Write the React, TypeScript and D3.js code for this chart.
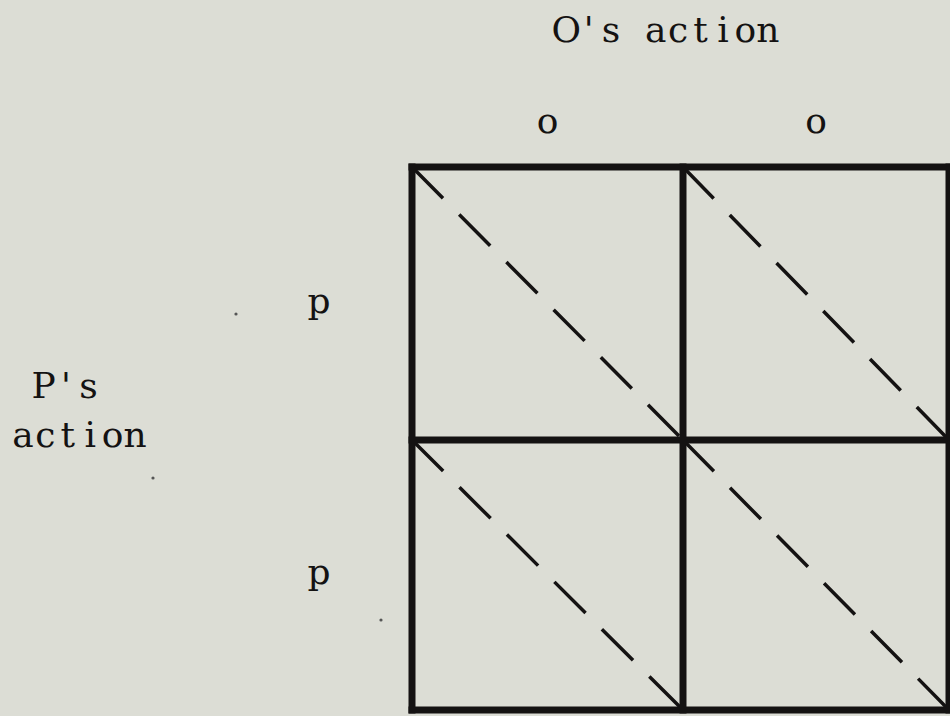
import React from "react";
import * as d3 from "d3";

// labels
const colActions = ["o", "o"];
const rowActions = ["p", "p"];
const colTitle = "O's action";
const rowTitle = ["P's", "action"];
// stray specks in the scan
const specks = [
  [236, 314],
  [153, 478],
  [381, 620],
];

const width = 950;
const height = 716;
const bg = "#dcddd5";
const ink = "#141212";
// no serif monospace installed, so serif glyphs are set on a fixed pitch
const font = "'DejaVu Serif', serif";
const fontSize = 36;
const pitch = 22.4;

// typewriter-like text centred on cx
const Mono = ({ cx, y, text }: { cx: number; y: number; text: string }) => {
  const chars = Array.from(text);
  const x0 = cx - ((chars.length - 1) * pitch) / 2;
  return (
    <g fontFamily={font} fontSize={fontSize} fill={ink} textAnchor="middle">
      {chars.map((c, k) =>
        c === " " ? null : (
          <text key={k} x={x0 + k * pitch} y={y}>
            {c}
          </text>
        )
      )}
    </g>
  );
};

const App = () => {
  const x = d3.scaleLinear().domain([0, 1, 2]).range([412, 683, 949]);
  const y = d3.scaleLinear().domain([0, 1, 2]).range([167, 440, 710]);

  const cells = d3.cross(d3.range(colActions.length), d3.range(rowActions.length));

  return (
    <svg
      width={width}
      height={height}
      style={{ position: "absolute", left: 0, top: 0 }}
    >
      <rect width={width} height={height} fill={bg} />

      <Mono cx={667} y={42} text={colTitle} />
      <Mono cx={66} y={398} text={rowTitle[0]} />
      <Mono cx={79} y={447} text={rowTitle[1]} />

      {colActions.map((d, i) => (
        <Mono key={"c" + i} cx={(x(i) + x(i + 1)) / 2} y={133} text={d} />
      ))}
      {rowActions.map((d, j) => (
        <Mono key={"r" + j} cx={319} y={(y(j) + y(j + 1)) / 2 + 9} text={d} />
      ))}

      {/* dashed diagonals */}
      {cells.map(([i, j]) => (
        <line
          key={`d${i}${j}`}
          x1={x(i)}
          y1={y(j)}
          x2={x(i + 1)}
          y2={y(j + 1)}
          stroke={ink}
          strokeWidth={3.5}
          strokeDasharray="44 23"
        />
      ))}

      {/* grid */}
      {d3.range(3).map((k) => (
        <line
          key={"v" + k}
          x1={x(k)}
          x2={x(k)}
          y1={y(0) - 3.5}
          y2={y(2) + 3.5}
          stroke={ink}
          strokeWidth={7}
        />
      ))}
      {d3.range(3).map((k) => (
        <line
          key={"h" + k}
          x1={x(0) - 3.5}
          x2={x(2) + 3.5}
          y1={y(k)}
          y2={y(k)}
          stroke={ink}
          strokeWidth={7}
        />
      ))}

      {specks.map(([sx, sy], i) => (
        <circle key={"s" + i} cx={sx} cy={sy} r={1.6} fill="#555" />
      ))}
    </svg>
  );
};

export default App;
